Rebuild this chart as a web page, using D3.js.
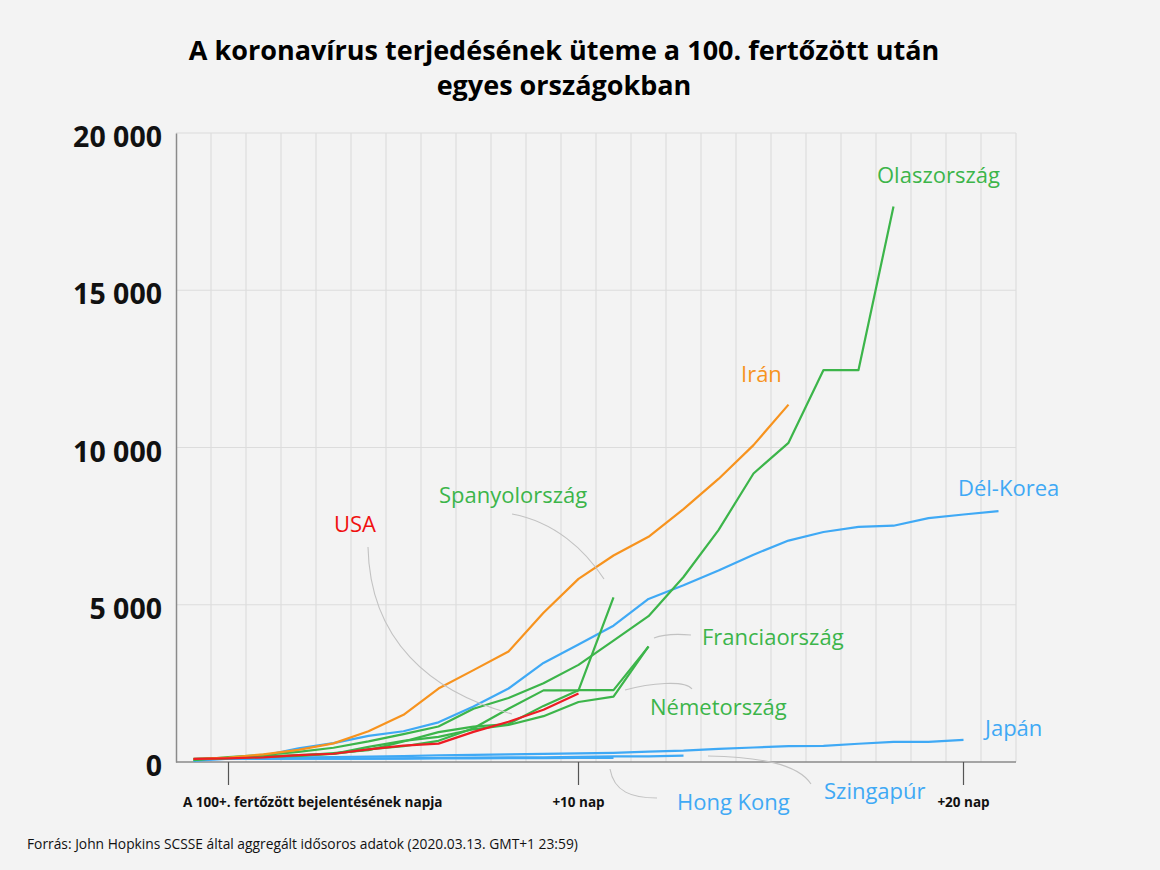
<!DOCTYPE html>
<html>
<head>
<meta charset="utf-8">
<script src="https://cdn.jsdelivr.net/npm/d3@7"></script>
<style>
  html, body { margin: 0; padding: 0; background: #f3f3f3; }
  svg { display: block; }
  text { font-family: "Open Sans", "Noto Sans", sans-serif; }
</style>
</head>
<body>
<svg id="chart" width="1160" height="870"></svg>
<script>
// ---- data (confirmed cases, day index 0 = day before 100th case) ----
const dayTickValues = [1, 11, 22];
const dayTickLabels = ["A 100+. fertőzött bejelentésének napja", "+10 nap", "+20 nap"];
const yTickValues = [0, 5000, 10000, 15000, 20000];

const italy   = [62, 155, 229, 322, 453, 655, 888, 1128, 1694, 2036, 2502, 3089, 3858, 4636, 5883, 7375, 9172, 10149, 12462, 12462, 17660];
const iran    = [95, 139, 245, 388, 593, 978, 1501, 2336, 2922, 3513, 4747, 5823, 6566, 7161, 8042, 9000, 10075, 11364];
const korea   = [31, 104, 204, 433, 602, 833, 977, 1261, 1766, 2337, 3150, 3736, 4335, 5186, 5621, 6088, 6593, 7041, 7314, 7478, 7513, 7755, 7869, 7979];
const spain   = [84, 120, 165, 222, 259, 400, 500, 673, 1073, 1695, 2277, 2277, 5232];
const france  = [100, 130, 191, 204, 285, 377, 653, 949, 1126, 1209, 1784, 2284, 2284, 3667];
const germany = [79, 130, 159, 196, 262, 482, 670, 799, 1040, 1176, 1457, 1908, 2078, 3675];
const usa     = [98, 118, 149, 217, 262, 402, 518, 583, 959, 1281, 1663, 2179];
const japan   = [94, 105, 122, 147, 159, 170, 189, 214, 228, 241, 256, 274, 293, 331, 360, 420, 461, 502, 511, 581, 639, 639, 701];
const singapore = [93, 102, 106, 108, 110, 110, 117, 130, 138, 150, 150, 160, 178, 178, 200];
const hongkong  = [95, 98, 101, 105, 105, 107, 108, 114, 115, 120, 126, 129, 134];

const seriesNames = ["Japán", "Szingapúr", "Hong Kong", "Dél-Korea", "Németország", "Franciaország", "Spanyolország", "Olaszország", "Irán", "USA"];
const seriesValues = [japan, singapore, hongkong, korea, germany, france, spain, italy, iran, usa];

const COLORS = { green: "#3cb54a", blue: "#3fa9f5", orange: "#f7931e", red: "#ee1c24", redLabel: "#f01010" };
const seriesColors = [COLORS.blue, COLORS.blue, COLORS.blue, COLORS.blue, COLORS.green, COLORS.green, COLORS.green, COLORS.green, COLORS.orange, COLORS.red];

// ---- layout ----
const svg = d3.select("#chart");
const pL = 176, pR = 1016, pT = 133, pB = 762;
const nDays = 24;

const x = d3.scaleBand().domain(d3.range(nDays)).range([pL, pR]).padding(0);
const xc = i => x(i) + x.bandwidth() / 2;
const y = d3.scaleLinear().domain([0, 20000]).range([pB, pT]);

// gridlines
const grid = svg.append("g");
grid.selectAll("line.v").data(d3.range(1, nDays + 1)).join("line")
  .attr("x1", d => d === nDays ? pR : x(d)).attr("x2", d => d === nDays ? pR : x(d))
  .attr("y1", pT).attr("y2", pB)
  .attr("stroke", "#dedede").attr("stroke-width", 1.2);
grid.selectAll("line.h").data(yTickValues.filter(v => v > 0)).join("line")
  .attr("x1", pL).attr("x2", pR)
  .attr("y1", d => y(d)).attr("y2", d => y(d))
  .attr("stroke", "#dcdcdc").attr("stroke-width", 1.2);

// y axis
const yAxis = svg.append("g").attr("transform", `translate(${pL},0)`)
  .call(d3.axisLeft(y).tickValues(yTickValues).tickSize(0).tickPadding(14)
    .tickFormat(d => d3.format(",")(d).replace(/,/g, " ")));
yAxis.select(".domain").attr("stroke", "#8a8a8a").attr("stroke-width", 1.5);
yAxis.selectAll("text").attr("font-size", 28.5).attr("font-weight", 700).attr("fill", "#111")
  .attr("dy", "0.48em").style("font-family", "'Open Sans', sans-serif");

// x axis
const xAxis = svg.append("g").attr("transform", `translate(0,${pB})`)
  .call(d3.axisBottom(x).tickValues(dayTickValues).tickSize(23).tickPadding(12)
    .tickFormat((d, i) => dayTickLabels[i]));
xAxis.select(".domain").attr("stroke", "#8a8a8a").attr("stroke-width", 1.5).attr("d", `M${pL},0H${pR}`);
xAxis.selectAll(".tick line").attr("stroke", "#555").attr("stroke-width", 1.2);
xAxis.selectAll(".tick").attr("transform", d => `translate(${xc(d)},0)`);
xAxis.selectAll("text").attr("font-size", 13.5).attr("font-weight", 700).attr("fill", "#111")
  .style("font-family", "'Open Sans', sans-serif");
xAxis.selectAll(".tick text").filter((d, i) => i === 0)
  .attr("text-anchor", "start").attr("x", -(xc(1) - 183));

// lines
const line = d3.line().x((d, i) => xc(i)).y(d => y(d));
svg.append("g").selectAll("path").data(seriesValues).join("path")
  .attr("d", d => line(d)).attr("fill", "none")
  .attr("stroke", (d, i) => seriesColors[i]).attr("stroke-width", 2.2)
  .attr("stroke-linejoin", "round");

// leader lines (gray curves)
const leaders = [
  "M368,547 C370,640 430,692 512,714",
  "M512,514 C555,522 585,550 604,579",
  "M654,638 C664,634 680,634 691,635",
  "M625,690 C650,683 685,680 692,689",
  "M610,769 C614,792 632,798 657,798",
  "M708,756 C760,757 798,764 811,784"
];
svg.append("g").selectAll("path").data(leaders).join("path")
  .attr("d", d => d).attr("fill", "none").attr("stroke", "#c2c2c2").attr("stroke-width", 1.1);

// series labels
const labels = [
  { t: "Olaszország", x: 877, y: 183, c: COLORS.green },
  { t: "Irán", x: 741, y: 382, c: COLORS.orange },
  { t: "Dél-Korea", x: 958, y: 496, c: COLORS.blue },
  { t: "Spanyolország", x: 439, y: 503, c: COLORS.green },
  { t: "USA", x: 334, y: 532, c: COLORS.redLabel },
  { t: "Franciaország", x: 702, y: 645, c: COLORS.green },
  { t: "Németország", x: 650, y: 715, c: COLORS.green },
  { t: "Japán", x: 985, y: 736, c: COLORS.blue },
  { t: "Hong Kong", x: 677, y: 810, c: COLORS.blue },
  { t: "Szingapúr", x: 824, y: 799, c: COLORS.blue }
];
svg.append("g").selectAll("text").data(labels).join("text")
  .attr("x", d => d.x).attr("y", d => d.y).attr("fill", d => d.c)
  .attr("font-size", 22).text(d => d.t);

// title
svg.append("text").attr("x", 564).attr("y", 60).attr("text-anchor", "middle")
  .attr("font-size", 27).attr("font-weight", 700).attr("fill", "#000")
  .text("A koronavírus terjedésének üteme a 100. fertőzött után");
svg.append("text").attr("x", 564).attr("y", 95).attr("text-anchor", "middle")
  .attr("font-size", 27).attr("font-weight", 700).attr("fill", "#000")
  .text("egyes országokban");

// footer
svg.append("text").attr("x", 27).attr("y", 849).attr("font-size", 13.8).attr("fill", "#111")
  .text("Forrás: John Hopkins SCSSE által aggregált idősoros adatok (2020.03.13. GMT+1 23:59)");
</script>
</body>
</html>
